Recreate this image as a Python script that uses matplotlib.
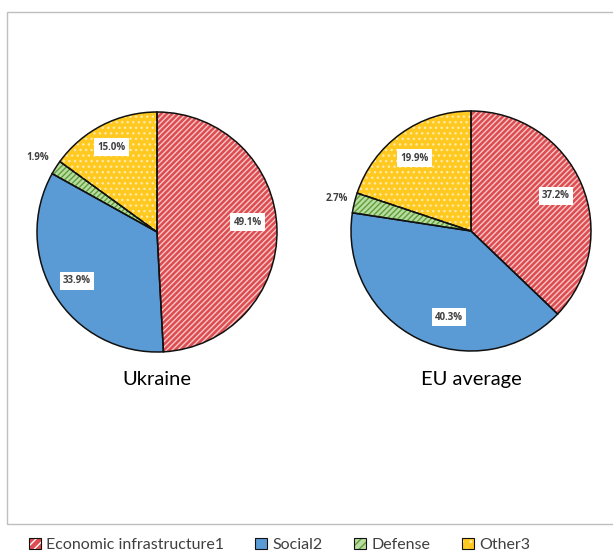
import matplotlib
matplotlib.use("Agg")
import matplotlib.pyplot as plt
from matplotlib.patches import Wedge, Patch, Rectangle
from matplotlib.legend_handler import HandlerTuple

categories = ["Economic infrastructure1", "Social2", "Defense", "Other3"]
ukraine = [49.1, 33.9, 1.9, 15.0]
eu_avg = [37.2, 40.3, 2.7, 19.9]
titles = ["Ukraine", "EU average"]

face_colors = ["#dc4c50", "#5b9bd5", "#b9dca0", "#ffc91f"]
hatch_colors = ["#f7c6c6", "#5b9bd5", "#5e9e3a", "#ffe9a6"]
hatches = ["//////", None, "//////", "..."]

# label positions in pie-data units (radius = 1)
label_pos = [
    [(0.758, 0.083), (-0.667, -0.408), (-0.992, 0.625), (-0.383, 0.708)],
    [(0.708, 0.292), (-0.183, -0.717), (-1.117, 0.267), (-0.467, 0.608)],
]

W, H = 613, 555
fig = plt.figure(figsize=(W / 100, H / 100), dpi=100)
plt.rcParams['font.family'] = ['Lato', 'DejaVu Sans']

# outer frame
fig.add_artist(Rectangle((7 / W, 1 - 524 / H), (W - 7) / W + 0.01, (524 - 12) / H,
                         transform=fig.transFigure, fill=False,
                         edgecolor="#bfbfbf", linewidth=1))

centers = [(157, 232), (471, 231)]
R = 120
for k, (vals, (cx, cy)) in enumerate(zip([ukraine, eu_avg], centers)):
    ax = fig.add_axes([(cx - R) / W, (H - cy - R) / H, 2 * R / W, 2 * R / H])
    wedges, _ = ax.pie(vals, startangle=90, counterclock=False, colors=face_colors,
                       radius=1, wedgeprops=dict(edgecolor="none", linewidth=0))
    for w in wedges:
        w.set_clip_on(False)
    for i, w in enumerate(wedges):
        if hatches[i]:
            hw = Wedge(w.center, w.r, w.theta1, w.theta2, facecolor="none",
                       edgecolor=hatch_colors[i], hatch=hatches[i], linewidth=0,
                       clip_on=False)
            ax.add_patch(hw)
        ew = Wedge(w.center, w.r, w.theta1, w.theta2, facecolor="none",
                   edgecolor="#111111", linewidth=1.1, clip_on=False)
        ax.add_patch(ew)
    for i, v in enumerate(vals):
        x, y = label_pos[k][i]
        ax.text(x, y, f"{v:.1f}%", ha="center", va="center", fontsize=7,
                fontweight="bold", color="#404040", family=["Open Sans", "DejaVu Sans"],
                bbox=dict(boxstyle="square,pad=0.35", facecolor="white",
                          edgecolor="none"))
    ax.set_xlim(-1, 1)
    ax.set_ylim(-1, 1)
    ax.axis("off")
    ax.text(0, -1.23 if k == 0 else -1.24, titles[k], ha="center", va="center",
            fontsize=14.5, color="black")

handles = []
for i in range(4):
    base = Patch(facecolor=face_colors[i], edgecolor="none")
    parts = [base]
    if hatches[i]:
        parts.append(Patch(facecolor="none", edgecolor=hatch_colors[i] if i != 0 else "white",
                           hatch="////" if i != 3 else "..", linewidth=0))
    parts.append(Patch(facecolor="none", edgecolor="#111111", linewidth=0.8))
    handles.append(tuple(parts))
leg = fig.legend(handles, categories, loc="center", bbox_to_anchor=(0.456, 1 - 545 / H),
                 ncol=4, frameon=False, fontsize=11.5, handlelength=0.75,
                 handleheight=0.75, handletextpad=0.35, columnspacing=1.95,
                 labelcolor="#404040",
                 handler_map={tuple: HandlerTuple(ndivide=1, pad=0)})
fig.savefig("out.png", dpi=100)
